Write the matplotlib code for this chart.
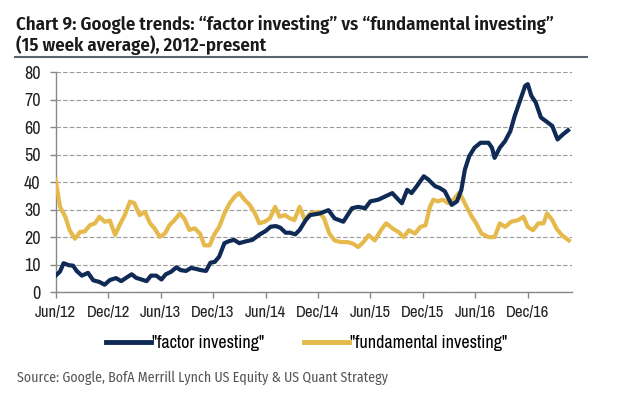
import matplotlib
matplotlib.use("Agg")
import matplotlib.pyplot as plt
from matplotlib.lines import Line2D

# months since Jun/12
factor_m = [0, 0.5, 0.9, 1.5, 2.0, 2.4, 3.0, 3.7, 4.3, 5.0, 5.6, 6.2, 6.9, 7.5, 8.1, 8.7,
            9.2, 9.8, 10.4, 10.9, 11.5, 12.1, 12.6, 13.2, 13.8, 14.3, 14.9, 15.5, 16.1,
            16.6, 17.2, 17.7, 18.2, 18.7, 19.3, 19.8, 20.4, 21.0, 21.8, 22.5, 23.3, 24.0,
            24.6, 25.2, 25.7, 26.3, 26.8, 27.4, 27.9, 28.6, 29.1, 30.2, 31.2, 31.9, 32.9,
            33.9, 34.6, 35.4, 36.0, 36.9, 37.7, 38.5, 39.2, 39.6, 40.2, 40.7, 41.3, 42.1,
            42.6, 43.4, 43.9, 44.5, 45.3, 45.9, 46.4, 46.8, 47.3, 47.9, 48.6, 49.5, 49.9,
            50.2, 50.8, 51.4, 52.0, 52.5, 53.1, 53.7, 54.0, 54.4, 54.9, 55.5, 56.3, 56.8,
            57.4, 58.0, 58.6]
factor = [6.0, 7.5, 10.5, 9.8, 9.6, 7.7, 6.0, 7.0, 4.3, 3.7, 2.7, 4.4, 5.1, 4.0, 5.3, 6.5,
          5.2, 4.6, 4.0, 6.0, 6.0, 4.6, 6.5, 7.4, 9.0, 8.0, 7.7, 8.8, 8.4,
          8.0, 7.7, 10.7, 11.0, 12.9, 17.8, 18.5, 19.0, 17.8, 18.5, 19.0, 20.9, 22.2,
          23.8, 24.0, 23.4, 21.6, 21.6, 21.0, 22.6, 26.2, 28.0, 28.6, 29.8, 26.8, 25.6,
          30.5, 31.0, 30.5, 33.0, 33.6, 34.8, 36.0, 33.6, 32.3, 37.2, 36.0, 38.5, 42.1,
          41.0, 38.5, 37.9, 36.7, 31.7, 33.0, 37.2, 44.5, 49.4, 52.5, 54.3, 54.3, 52.5,
          48.8, 52.5, 54.9, 58.5, 64.0, 69.5, 75.0, 75.6, 71.4, 69.0, 63.5, 61.6, 60.4,
          55.5, 57.3, 58.8]

fund_m = [0, 0.5, 1.1, 1.6, 2.2, 2.8, 3.3, 3.9, 4.5, 5.0, 5.6, 6.2, 6.8, 7.3, 7.9, 8.5,
          9.0, 9.6, 10.2, 10.8, 11.3, 11.9, 12.5, 13.0, 13.6, 14.2, 14.7, 15.3, 15.9,
          16.5, 17.0, 17.6, 18.2, 18.7, 19.3, 19.9, 20.5, 21.0, 21.6, 22.2, 22.8, 23.3,
          23.9, 24.5, 25.1, 25.6, 26.2, 26.8, 27.3, 27.9, 28.5, 29.1, 30.1, 30.7, 31.3,
          31.9, 32.6, 33.4, 34.0, 34.6, 35.2, 35.8, 36.5, 37.3, 37.8, 38.6, 39.2, 39.8,
          40.4, 41.1, 41.7, 42.3, 42.8, 43.2, 43.7, 44.3, 44.9, 45.5, 46.1, 46.4, 47.0,
          47.6, 48.1, 48.7, 49.5, 50.2, 50.8, 51.4, 52.1, 52.9, 53.5, 54.0, 54.6, 55.2,
          55.8, 56.2, 56.8, 57.3, 57.9, 58.7]
fund = [40.8, 31.0, 27.4, 22.5, 19.4, 21.9, 22.0, 24.3, 25.0, 27.4, 25.6, 26.0, 20.8,
        24.3, 28.0, 32.9, 32.3, 28.0, 29.2, 25.0, 23.2, 20.1, 21.3, 24.3, 26.2, 28.6,
        26.8, 22.6, 23.2, 21.3, 17.0, 17.0, 21.3, 23.7, 28.6, 32.3, 34.8, 36.0, 33.6,
        31.7, 28.6, 25.0, 25.6, 26.8, 31.0, 27.4, 28.0, 26.8, 26.2, 31.0, 26.2, 28.6,
        29.2, 26.8, 21.3, 18.8, 18.2, 18.2, 17.6, 16.4, 18.2, 20.7, 18.8, 23.0, 25.0,
        23.0, 21.9, 20.0, 22.5, 21.3, 23.7, 24.3, 31.0, 33.6, 33.0, 33.6, 32.3, 33.6,
        36.0, 34.8, 31.0, 27.4, 25.0, 21.3, 20.0, 20.0, 25.0, 23.7, 25.6, 26.2, 27.4,
        23.7, 22.5, 25.0, 25.0, 28.6, 26.2, 23.0, 20.7, 18.8]

tick_m = [0, 6, 12, 18, 24, 30, 36, 42, 48, 54]
tick_labels = ["Jun/12", "Dec/12", "Jun/13", "Dec/13", "Jun/14", "Dec/14",
               "Jun/15", "Dec/15", "Jun/16", "Dec/16"]

navy = "#102a56"
gold = "#e5b94c"
narrow = ["Archivo Narrow", "Roboto Condensed", "Liberation Sans", "DejaVu Sans"]
myriad = ["Fira Sans Condensed", "Roboto Condensed", "DejaVu Sans"]

fig = plt.figure(figsize=(6.2, 3.98), dpi=100)
ax = fig.add_axes([0.0898, 0.266, 0.832, 0.553])

ax.plot(fund_m, fund, color=gold, lw=3.0, solid_joinstyle="round", zorder=3)
ax.plot(factor_m, factor, color=navy, lw=3.0, solid_joinstyle="round", zorder=4)

ax.set_xlim(0, 59)
ax.set_ylim(0, 80)
ax.set_yticks(range(0, 81, 10))
ax.set_xticks(tick_m)
ax.set_xticklabels(tick_labels)
for lab in ax.get_xticklabels():
    lab.set_family(narrow)
    lab.set_fontsize(12)
    lab.set_color("#222222")
for lab in ax.get_yticklabels():
    lab.set_family(narrow)
    lab.set_fontsize(13)
    lab.set_color("#222222")
ax.yaxis.grid(True, color="#999999", ls=(0, (4, 2)), lw=0.8)
ax.set_axisbelow(True)
for s in ["top", "right"]:
    ax.spines[s].set_visible(False)
for s in ["left", "bottom"]:
    ax.spines[s].set_color("#888888")
    ax.spines[s].set_linewidth(1.0)
ax.tick_params(axis="both", color="#888888", length=4, width=1.0)
ax.tick_params(axis="x", pad=5)
ax.tick_params(axis="y", pad=7)

# title
fig.text(0.026, 0.962, "Chart 9: Google trends: \u201cfactor investing\u201d vs \u201cfundamental investing\u201d\n"
         "(15 week average), 2012-present", family=myriad, fontweight="semibold",
         fontsize=13.5, color="#1a1a1a", va="top", ha="left", linespacing=1.05)
fig.add_artist(Line2D([0.024, 0.947], [0.857, 0.857], color="#5a6470", lw=1.5))

handles = [Line2D([], [], color=navy, lw=3.5), Line2D([], [], color=gold, lw=3.5)]
fig.legend(handles, ['"factor investing"', '"fundamental investing"'], loc="center",
           bbox_to_anchor=(0.495, 0.138), ncol=2, frameon=False, handlelength=2.5,
           columnspacing=2.2, handletextpad=0.05, borderpad=0,
           prop={"family": narrow, "size": 13})

fig.text(0.027, 0.052, "Source: Google, BofA Merrill Lynch US Equity & US Quant Strategy",
         family=myriad, fontsize=10, color="#555555", va="center")

fig.savefig("out.png", dpi=100)
